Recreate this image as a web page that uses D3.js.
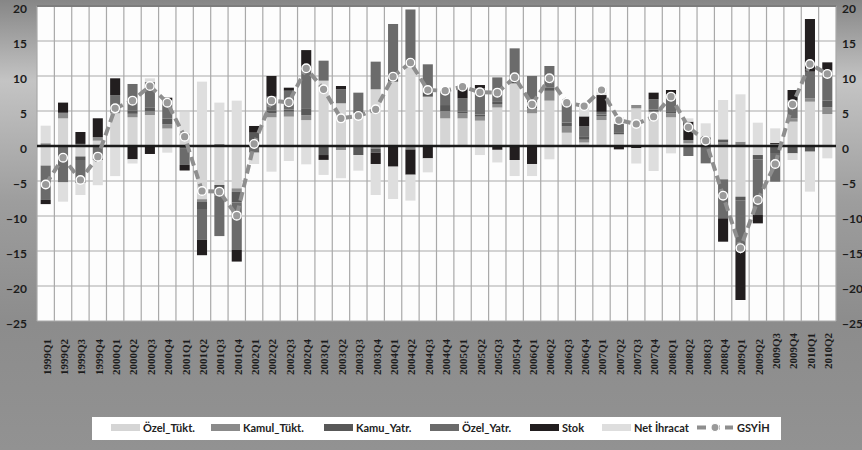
<!DOCTYPE html>
<html>
<head>
<meta charset="utf-8">
<script src="https://cdn.jsdelivr.net/npm/d3@7"></script>
<style>
  html, body { margin: 0; padding: 0; background: #8c8c8c; }
  svg { display: block; }
</style>
</head>
<body>
<svg id="chart" width="862" height="450"></svg>
<script>
const categories = ["1999Q1","1999Q2","1999Q3","1999Q4","2000Q1","2000Q2","2000Q3","2000Q4",
  "2001Q1","2001Q2","2001Q3","2001Q4","2002Q1","2002Q2","2002Q3","2002Q4",
  "2003Q1","2003Q2","2003Q3","2003Q4","2004Q1","2004Q2","2004Q3","2004Q4",
  "2005Q1","2005Q2","2005Q3","2005Q4","2006Q1","2006Q2","2006Q3","2006Q4",
  "2007Q1","2007Q2","2007Q3","2007Q4","2008Q1","2008Q2","2008Q3","2008Q4",
  "2009Q1","2009Q2","2009Q3","2009Q4","2010Q1","2010Q2"];

const ozelTukt = [-2.8,3.95,-1.5,0.76,4.67,4.1,4.43,2.5,1.5,-7.6,-5.57,-6.05,0,4.1,4.2,3.7,
  9.33,6.1,4.67,8.1,9.19,11.33,7.05,3.95,3.95,3.62,5.5,8.95,4.67,6.48,1.9,0.5,
  3.71,1.67,5.38,4.9,4.1,0.38,0,-4.76,-7.24,-1.29,0,3.48,6.33,4.57];
const kamuTukt = [0.4,0.8,0.3,0.5,0.3,0.5,0.5,0.6,0.3,-0.4,0.3,-0.5,0.5,0.6,0.7,0.7,
  0,-0.6,0,-0.4,0,-0.5,0,1.0,0.7,0.57,0.5,0,0.7,1.4,0.95,0.4,
  0.57,0,0.48,0,0.57,0.48,0.5,0.5,0.62,0,0.3,0.5,0.5,0.95];
const kamuYatr = [0,0,-0.5,0,0.5,0.5,0.6,0.8,-0.4,-1.0,-1.5,-1.5,1.4,0.4,0.3,1.0,
  -1.29,0,-1.29,-0.55,0.8,0.8,0.6,0.9,0.3,0.3,0.3,0.5,1.2,0.5,0.5,0.5,
  0.2,0.3,0,0.3,0.3,0,0.74,0.45,-0.5,-0.6,-1.0,-1.05,-0.81,1.0];
const ozelYatr = [-4.9,-5.2,-3.3,-2.0,1.8,3.76,3.6,2.6,-2.3,-4.4,-5.8,-6.8,-0.95,1.95,2.7,5.7,
  2.86,2.0,2.95,3.95,7.44,7.37,4.02,2.05,1.85,3.75,3.5,4.5,3.43,3.05,2.75,1.4,
  0.4,1.17,0,1.47,2.46,-1.43,-2.48,-5.57,-6.88,-7.97,-4.1,2.59,3.79,4.34];
const stok = [-0.6,1.45,1.7,2.7,2.4,-1.9,-1.14,0.4,-0.8,-2.2,0,-1.66,0.96,2.95,0.43,2.6,
  -0.7,0.47,0,-1.62,-2.95,-3.6,-1.76,0,1.57,0.47,-0.55,-2.0,-2.57,0,0,1.43,
  2.4,-0.48,-0.3,0.95,0.57,2.62,0,-3.34,-7.38,-1.19,0.15,1.43,7.52,1.09];
const netIhracat = [2.5,-2.75,-1.7,-3.6,-4.3,-0.6,0.54,-0.95,3.06,9.19,5.9,6.48,-1.62,-3.67,-2.14,-2.62,
  -2.14,-4.0,-2.23,-4.43,-4.62,-3.7,-2.0,-0.3,0,-1.29,-1.8,-2.29,-1.72,-1.9,0,1.52,
  0.95,0.96,-2.2,-3.57,-1.05,0.47,2.0,5.62,6.76,3.33,2.07,-0.95,-5.71,-1.76];
const gsyih = [-5.5,-1.67,-4.86,-1.52,5.38,6.48,8.57,6.19,1.33,-6.43,-6.52,-9.95,0.29,6.48,6.24,11.1,
  8.1,3.95,4.29,5.24,9.9,11.9,8.0,7.9,8.48,7.67,7.62,9.81,5.95,9.67,6.19,5.71,
  8.0,3.71,3.14,4.19,7.05,2.67,0.76,-7.1,-14.6,-7.71,-2.57,5.95,11.7,10.29];

const seriesNames = ["Özel_Tükt.","Kamul_Tükt.","Kamu_Yatr.","Özel_Yatr.","Stok","Net İhracat"];
const seriesValues = [ozelTukt, kamuTukt, kamuYatr, ozelYatr, stok, netIhracat];
const seriesColors = ["#d5d5d5","#8b8b8b","#585858","#6b6b6b","#221e1f","#dedede"];
const lineName = "GSYİH";
const yTicks = [-25,-20,-15,-10,-5,0,5,10,15,20];

const svg = d3.select("#chart");
const W = 862, H = 450;
const plot = {left: 37, right: 836, top: 6, bottom: 321};

// background
const defs = svg.append("defs");
const bg = defs.append("linearGradient").attr("id","bg").attr("x1",0).attr("y1",0).attr("x2",0).attr("y2",1);
[[0,"#868686"],[0.18,"#c4c4c4"],[0.45,"#9d9d9d"],[0.72,"#8c8c8c"],[1,"#929292"]]
  .forEach(([o,c]) => bg.append("stop").attr("offset",o).attr("stop-color",c));
svg.append("rect").attr("width",W).attr("height",H).attr("fill","url(#bg)");

const table = categories.map((c,i) => {
  const o = {cat: c, gdp: gsyih[i]};
  seriesNames.forEach((s,k) => o[s] = seriesValues[k][i]);
  return o;
});

const x = d3.scaleBand().domain(categories).range([plot.left, plot.right]).paddingInner(0.42).paddingOuter(0.21);
const y = d3.scaleLinear().domain([-25, 20]).range([plot.bottom, plot.top]);

// plot background
svg.append("rect").attr("x",plot.left).attr("y",plot.top)
  .attr("width",plot.right-plot.left).attr("height",plot.bottom-plot.top).attr("fill","#fdfdfd");

// gridlines
const step = x.step();
const g = svg.append("g");
g.selectAll("line.h").data(yTicks).join("line")
  .attr("x1",plot.left).attr("x2",plot.right)
  .attr("y1",d=>y(d)).attr("y2",d=>y(d))
  .attr("stroke","#a9a9a9").attr("stroke-width",1.2);
g.selectAll("line.v").data(d3.range(categories.length+1)).join("line")
  .attr("x1",d=>plot.left + d*step).attr("x2",d=>plot.left + d*step)
  .attr("y1",plot.top).attr("y2",plot.bottom)
  .attr("stroke","#a9a9a9").attr("stroke-width",1.2);
// top border
svg.append("line").attr("x1",plot.left).attr("x2",plot.right).attr("y1",plot.top).attr("y2",plot.top)
  .attr("stroke","#7d7d7d").attr("stroke-width",2);

// stacked bars
const stack = d3.stack().keys(seriesNames).offset(d3.stackOffsetDiverging);
const stacked = stack(table);
svg.append("g").selectAll("g").data(stacked).join("g")
  .attr("fill",(d,i)=>seriesColors[i])
  .selectAll("rect").data(d=>d).join("rect")
  .attr("x",d=>x(d.data.cat))
  .attr("width",x.bandwidth())
  .attr("y",d=>y(Math.max(d[0],d[1])))
  .attr("height",d=>Math.abs(y(d[0])-y(d[1])));

// zero line
svg.append("line").attr("x1",plot.left).attr("x2",plot.right).attr("y1",y(0)).attr("y2",y(0))
  .attr("stroke","#1a1a1a").attr("stroke-width",2.5);

// GDP line
const line = d3.line().x(d=>x(d.cat)+x.bandwidth()/2).y(d=>y(d.gdp));
svg.append("path").datum(table).attr("d",line)
  .attr("fill","none").attr("stroke","#8e8e8e").attr("stroke-width",4)
  .attr("stroke-dasharray","9,5");
svg.append("g").selectAll("circle").data(table).join("circle")
  .attr("cx",d=>x(d.cat)+x.bandwidth()/2).attr("cy",d=>y(d.gdp)).attr("r",4.3)
  .attr("fill","#9a9a9a").attr("stroke","#ffffff").attr("stroke-width",1.4);

// y axes
const yFont = "Lato,'Liberation Sans Narrow',sans-serif";
const yl = d3.axisLeft(y).tickValues(yTicks).tickSize(0).tickPadding(0);
svg.append("g").attr("transform",`translate(${plot.left-10},0)`).call(yl)
  .call(a=>a.select(".domain").remove())
  .selectAll("text").attr("dy","0.5em").attr("font-family",yFont).attr("font-weight","bold").attr("font-size",12).attr("fill","#1c1c1c");
const yr = d3.axisRight(y).tickValues(yTicks).tickSize(0).tickPadding(0);
svg.append("g").attr("transform",`translate(${plot.right+6},0)`).call(yr)
  .call(a=>a.select(".domain").remove())
  .selectAll("text").attr("dy","0.5em").attr("font-family",yFont).attr("font-weight","bold").attr("font-size",12).attr("fill","#1c1c1c");

// x axis labels
svg.append("g").selectAll("text").data(categories).join("text")
  .attr("transform",(d,i)=>`translate(${x(d)+x.bandwidth()/2+1},${i>=42?333:339}) rotate(-90)`)
  .attr("text-anchor","end").attr("dy","0.35em")
  .attr("font-family","'Liberation Serif','Times New Roman',serif").attr("font-weight","bold")
  .attr("font-size",11).attr("fill","#1c1c1c")
  .text(d=>d);

// legend
const lg = svg.append("g");
lg.append("rect").attr("x",92).attr("y",417).attr("width",689).attr("height",23).attr("fill","#ffffff");
const legendX = [111,211,324,430,530,602];
seriesNames.forEach((s,i)=>{
  lg.append("rect").attr("x",legendX[i]).attr("y",424).attr("width",29).attr("height",7).attr("fill",seriesColors[i]);
  lg.append("text").attr("x",legendX[i]+32).attr("y",432).text(s)
    .attr("font-family",yFont).attr("font-weight","bold").attr("font-size",11).attr("fill","#222");
});
lg.append("line").attr("x1",697).attr("x2",733).attr("y1",427.5).attr("y2",427.5)
  .attr("stroke","#8e8e8e").attr("stroke-width",4).attr("stroke-dasharray","9,5");
lg.append("circle").attr("cx",715).attr("cy",427.5).attr("r",4).attr("fill","#9a9a9a").attr("stroke","#fff").attr("stroke-width",1.2);
lg.append("text").attr("x",737).attr("y",432).text(lineName)
  .attr("font-family",yFont).attr("font-weight","bold").attr("font-size",11).attr("fill","#222");
</script>
</body>
</html>
